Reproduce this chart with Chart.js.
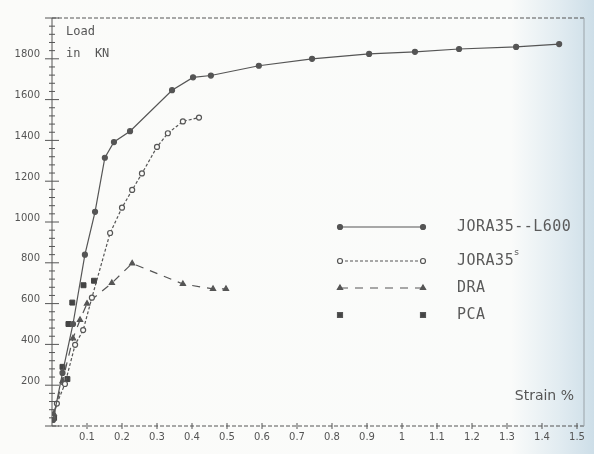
<!DOCTYPE html>
<html>
<head>
<meta charset="utf-8">
<script src="https://cdn.jsdelivr.net/npm/chart.js@4"></script>
<style>
  html, body { margin: 0; padding: 0; background: #fbfbf9; }
  #wrap { width: 594px; height: 454px; }
</style>
</head>
<body>
<div id="wrap"><canvas id="loadChart" width="594" height="454"></canvas></div>
<script>
// Values (strain in %, load in kN)
const strainL600 = [0.003, 0.03, 0.06, 0.094, 0.123, 0.151, 0.177, 0.223, 0.343, 0.403, 0.454, 0.591, 0.743, 0.906, 1.037, 1.163, 1.326, 1.449];
const loadL600 = [30, 260, 500, 840, 1050, 1315, 1392, 1445, 1646, 1709, 1718, 1766, 1800, 1824, 1834, 1848, 1858, 1872];

const strainJs = [0.003, 0.014, 0.037, 0.066, 0.089, 0.114, 0.166, 0.2, 0.229, 0.257, 0.3, 0.331, 0.374, 0.42];
const loadJs = [38, 110, 206, 398, 470, 629, 946, 1070, 1157, 1238, 1368, 1435, 1493, 1512];

const strainDra = [0.005, 0.03, 0.06, 0.08, 0.1, 0.171, 0.229, 0.374, 0.46, 0.497];
const loadDra = [60, 220, 430, 520, 600, 701, 797, 696, 672, 672];

const strainPca = [0.006, 0.03, 0.044, 0.047, 0.058, 0.09, 0.12];
const loadPca = [40, 290, 230, 500, 605, 690, 712];

const seriesNames = ['JORA35--L600', 'JORA35', 'DRA', 'PCA'];
const yTicks = [200, 400, 600, 800, 1000, 1200, 1400, 1600, 1800];
const xTicks = [0.1, 0.2, 0.3, 0.4, 0.5, 0.6, 0.7, 0.8, 0.9, 1, 1.1, 1.2, 1.3, 1.4, 1.5];

const ink = '#555';

function pts(xs, ys) {
    return xs.map((x, i) => ({ x: x, y: ys[i] }));
}

// paper background with the bluish page edge on the right
const paper = {
    id: 'paper',
    beforeDraw(chart) {
        const ctx = chart.ctx;
        const g = ctx.createLinearGradient(0, 0, chart.width, 0);
        g.addColorStop(0, '#fbfbf9');
        g.addColorStop(0.86, '#fafbfa');
        g.addColorStop(0.94, '#e2ecf1');
        g.addColorStop(1, '#cddee8');
        ctx.save();
        ctx.fillStyle = g;
        ctx.fillRect(0, 0, chart.width, chart.height);
        ctx.restore();
    }
};

// axes with cross ticks, frame, axis captions and legend
const frame = {
    id: 'frame',
    beforeDatasetsDraw(chart) {
        const ctx = chart.ctx;
        const a = chart.chartArea;
        const xs = chart.scales.x, ys = chart.scales.y;
        ctx.save();
        ctx.strokeStyle = ink;
        ctx.lineWidth = 1;
        // y axis
        ctx.beginPath();
        ctx.moveTo(a.left, a.top);
        ctx.lineTo(a.left, a.bottom);
        ctx.stroke();
        for (let v = 0; v <= 2000; v += 40) {
            const py = ys.getPixelForValue(v);
            const len = v % 200 === 0 ? 7 : 3;
            ctx.beginPath();
            ctx.moveTo(a.left - len, py);
            ctx.lineTo(a.left + len, py);
            ctx.stroke();
        }
        // x axis and top border, dashed
        ctx.setLineDash([4, 2]);
        ctx.beginPath();
        ctx.moveTo(a.left, a.bottom);
        ctx.lineTo(a.right, a.bottom);
        ctx.moveTo(a.left, a.top);
        ctx.lineTo(a.right, a.top);
        ctx.stroke();
        ctx.setLineDash([]);
        xTicks.forEach(v => {
            const px = xs.getPixelForValue(v);
            ctx.beginPath();
            ctx.moveTo(px, a.bottom - 3);
            ctx.lineTo(px, a.bottom + 3);
            ctx.stroke();
        });
        // right edge
        ctx.strokeStyle = '#9aa3a8';
        ctx.beginPath();
        ctx.moveTo(a.right, a.top);
        ctx.lineTo(a.right, a.bottom);
        ctx.stroke();

        ctx.fillStyle = ink;
        ctx.font = '12px "DejaVu Sans Mono"';
        ctx.textBaseline = 'middle';
        ctx.fillText('Load', a.left + 14, 32);
        ctx.fillText('in  KN', a.left + 14, 54);
        ctx.font = '14px "DejaVu Sans"';
        ctx.textAlign = 'right';
        ctx.fillText('Strain %', a.right - 10, 396);
        ctx.restore();
    },
    afterDraw(chart) {
        const ctx = chart.ctx;
        const rows = [227, 261, 288, 315];
        const x0 = 340, x1 = 423;
        ctx.save();
        chart.data.datasets.forEach((ds, i) => {
            const y = rows[i];
            ctx.strokeStyle = ink;
            ctx.lineWidth = 1.2;
            if (ds.showLine !== false) {
                ctx.setLineDash(ds.borderDash || []);
                ctx.beginPath();
                ctx.moveTo(x0, y);
                ctx.lineTo(x1, y);
                ctx.stroke();
                ctx.setLineDash([]);
            }
            [x0, x1].forEach(px => {
                ctx.fillStyle = ds.pointBackgroundColor;
                ctx.strokeStyle = ink;
                ctx.beginPath();
                Chart.helpers.drawPoint(ctx, { pointStyle: ds.pointStyle, radius: ds.pointRadius, rotation: 0 }, px, y);
                ctx.fill();
                ctx.stroke();
            });
            ctx.fillStyle = '#5a5a5a';
            ctx.font = '15px "DejaVu Sans Mono"';
            ctx.letterSpacing = '0.5px';
            ctx.textBaseline = 'middle';
            ctx.textAlign = 'left';
            ctx.fillText(ds.label, 457, y);
            if (i === 1) {
                const w = ctx.measureText(ds.label).width;
                ctx.font = '9px "DejaVu Sans"';
                ctx.fillText('s', 457 + w, y - 8);
            }
        });
        ctx.restore();
    }
};

new Chart(document.getElementById('loadChart'), {
    type: 'line',
    data: {
        datasets: [{
            label: seriesNames[0],
            data: pts(strainL600, loadL600),
            borderColor: ink,
            borderWidth: 1.2,
            pointStyle: 'circle',
            pointRadius: 2.5,
            pointBackgroundColor: ink,
            pointBorderColor: ink,
        }, {
            label: seriesNames[1],
            data: pts(strainJs, loadJs),
            borderColor: ink,
            borderWidth: 1.2,
            borderDash: [3, 2],
            pointStyle: 'circle',
            pointRadius: 2.5,
            pointBackgroundColor: '#fbfbf9',
            pointBorderColor: ink,
        }, {
            label: seriesNames[2],
            data: pts(strainDra, loadDra),
            borderColor: ink,
            borderWidth: 1.2,
            borderDash: [8, 7],
            pointStyle: 'triangle',
            pointRadius: 3,
            pointBackgroundColor: ink,
            pointBorderColor: ink,
        }, {
            label: seriesNames[3],
            data: pts(strainPca, loadPca),
            showLine: false,
            pointStyle: 'rect',
            pointRadius: 3.5,
            pointBackgroundColor: '#444',
            pointBorderColor: '#444',
        }],
    },
    options: {
        responsive: false,
        animation: false,
        events: [],
        layout: { padding: { top: 10, right: 10, left: 0, bottom: 0 } },
        plugins: { legend: { display: false }, tooltip: { enabled: false } },
        scales: {
            x: {
                type: 'linear',
                min: 0,
                max: 1.52,
                afterBuildTicks: s => { s.ticks = xTicks.map(v => ({ value: v })); },
                grid: { display: false, drawTicks: false },
                border: { display: false },
                afterFit: s => { s.height = 28; },
                ticks: {
                    padding: 5,
                    autoSkip: false,
                    maxRotation: 0,
                    color: ink,
                    font: { family: 'DejaVu Sans', size: 10 },
                    callback: v => String(v),
                },
            },
            y: {
                min: 0,
                max: 2000,
                afterBuildTicks: s => { s.ticks = yTicks.map(v => ({ value: v })); },
                afterFit: s => { s.width = 52; },
                grid: { display: false, drawTicks: false },
                border: { display: false },
                ticks: {
                    padding: 12,
                    labelOffset: -4,
                    color: ink,
                    font: { family: 'DejaVu Sans', size: 10 },
                    callback: v => String(v),
                },
            },
        },
    },
    plugins: [paper, frame],
});
</script>
</body>
</html>
